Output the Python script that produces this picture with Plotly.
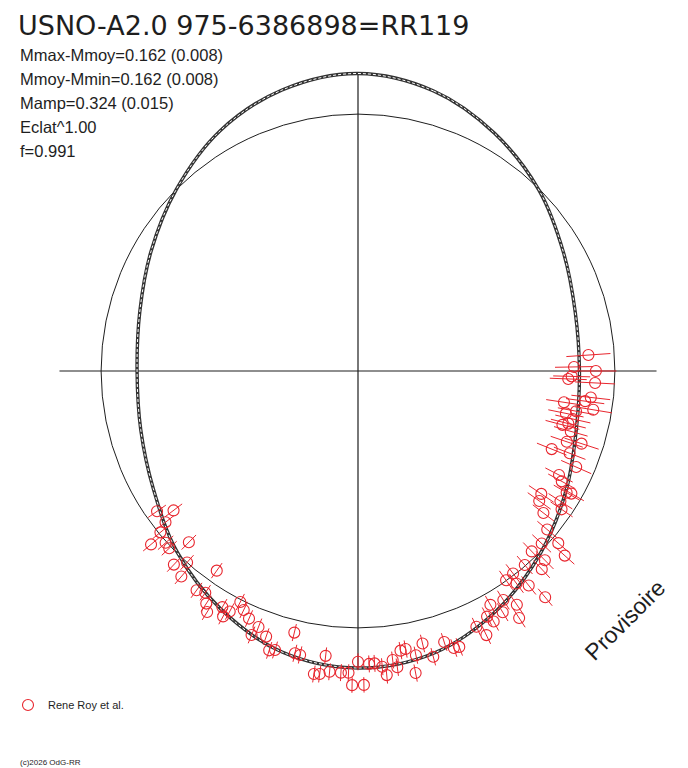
import plotly.graph_objects as go

# the page body keeps the browser's default 8px margin
PAGE_MARGIN = 8
W, H = 688 - PAGE_MARGIN, 768 - PAGE_MARGIN

# pixel centre of the polar disc (window coords) and magnitude scale
CX, CY = 358, 371
R_MIN, R_MAX = -1.0, 0.28
PX_PER_MAG = 256.9

TITLE = "USNO-A2.0 975-6386898=RR119"
INFO = [
    "Mmax-Mmoy=0.162 (0.008)",
    "Mmoy-Mmin=0.162 (0.008)",
    "Mamp=0.324 (0.015)",
    "Eclat^1.00",
    "f=0.991",
]
MMAX_MMOY = 0.162

# fitted light curve, Mmoy - M against phase
fit_phase = [0.0, 0.042, 0.083, 0.125, 0.167, 0.208, 0.250, 0.292, 0.333,
             0.375, 0.417, 0.458, 0.500, 0.542, 0.583, 0.625, 0.667, 0.708,
             0.750, 0.792, 0.833, 0.875, 0.917, 0.958, 1.0]
fit_dmag = [0.158, 0.129, 0.067, -0.004, -0.077, -0.124, -0.138, -0.120, -0.066,
            0.004, 0.078, 0.137, 0.156, 0.133, 0.070, -0.004, -0.081, -0.124,
            -0.140, -0.120, -0.070, 0.000, 0.078, 0.133, 0.158]

# observations (Rene Roy et al.)
phase = [
    0.239, 0.247, 0.250, 0.254, 0.256, 0.258, 0.268, 0.274, 0.271, 0.276,
    0.282, 0.279, 0.285, 0.291, 0.289, 0.294, 0.302, 0.300, 0.311, 0.309,
    0.316, 0.326, 0.329, 0.344, 0.334, 0.333,
    0.349, 0.341, 0.354, 0.345, 0.361, 0.370, 0.363, 0.378, 0.376, 0.366,
    0.387, 0.381, 0.396, 0.402, 0.398, 0.393, 0.390, 0.410, 0.405, 0.408,
    0.418, 0.414, 0.423,
    0.421, 0.431, 0.428, 0.451, 0.463, 0.444, 0.447, 0.473, 0.476, 0.468,
    0.459, 0.481, 0.538, 0.535, 0.532, 0.518, 0.500, 0.494, 0.491, 0.487,
    0.523, 0.520, 0.515, 0.509, 0.505, 0.485, 0.479, 0.470, 0.503, 0.497,
    0.647, 0.653, 0.644, 0.641, 0.639, 0.634, 0.630, 0.624, 0.621, 0.616,
    0.613, 0.598, 0.601, 0.596, 0.592, 0.589, 0.583, 0.578, 0.575, 0.571,
    0.566, 0.580, 0.559, 0.561, 0.553, 0.549, 0.546,
]
dmag = [
    -0.101, -0.159, -0.074, -0.168, -0.181, -0.076, -0.088, -0.189, -0.108, -0.072,
    -0.174, -0.137, -0.143, -0.177, -0.156, -0.139, -0.142, -0.085, -0.187, -0.116,
    -0.072, -0.119, -0.098, -0.141, -0.060, -0.042,
    -0.132, -0.063, -0.091, -0.042, -0.039, -0.019, 0.028, -0.025, 0.035, 0.079,
    -0.004, 0.052, -0.007, -0.002, 0.032, 0.067, 0.143, 0.056, 0.100, 0.148,
    0.046, 0.095, 0.080,
    0.109, 0.097, 0.143, 0.107, 0.090, 0.144, 0.141, 0.098, 0.101, 0.129,
    0.150, 0.133, 0.048, 0.126, 0.128, 0.116, 0.132, 0.141, 0.140, 0.155,
    0.192, 0.189, 0.176, 0.176, 0.175, 0.189, 0.163, 0.197, 0.223, 0.222,
    -0.100, -0.046, -0.047, -0.007, 0.051, 0.004, 0.008, -0.063, 0.040, -0.001,
    0.055, -0.048, 0.060, 0.048, 0.081, 0.107, 0.060, 0.061, 0.009, 0.031,
    0.053, 0.090, 0.069, 0.108, 0.094, 0.141, 0.133,
]
err = [
    0.086, 0.074, 0.080, 0.072, 0.072, 0.078, 0.076, 0.070, 0.075, 0.074,
    0.070, 0.072, 0.070, 0.068, 0.070, 0.068, 0.066, 0.070, 0.062, 0.066,
    0.064, 0.060, 0.060, 0.058, 0.058, 0.056,
    0.055, 0.055, 0.052, 0.052, 0.050, 0.050, 0.050, 0.048, 0.048, 0.050,
    0.046, 0.046, 0.045, 0.045, 0.045, 0.045, 0.043, 0.043, 0.043, 0.043,
    0.040, 0.040, 0.040,
    0.040, 0.038, 0.038, 0.036, 0.035, 0.036, 0.036, 0.034, 0.034, 0.034,
    0.035, 0.033, 0.034, 0.034, 0.034, 0.033, 0.033, 0.033, 0.033, 0.033,
    0.033, 0.033, 0.033, 0.033, 0.033, 0.033, 0.034, 0.034, 0.030, 0.030,
    0.042, 0.042, 0.042, 0.040, 0.040, 0.040, 0.040, 0.040, 0.038, 0.038,
    0.038, 0.036, 0.036, 0.036, 0.036, 0.036, 0.036, 0.036, 0.035, 0.035,
    0.035, 0.035, 0.035, 0.035, 0.034, 0.034, 0.034,
]

INK = "#1e1e1e"
RED = "#e8262e"


def px(x):
    return (x - PAGE_MARGIN) / W


def py(y):
    return 1 - (y - PAGE_MARGIN) / H


theta_pts = [p * 360 for p in phase]
theta_fit = [p * 360 for p in fit_phase]

bar_r, bar_t = [], []
for t, m, e in zip(theta_pts, dmag, err):
    bar_r += [m - e, m + e, None]
    bar_t += [t, t, None]

fig = go.Figure()

# crosshair
fig.add_trace(go.Scatterpolar(
    r=[MMAX_MMOY, R_MIN, MMAX_MMOY, None, MMAX_MMOY, R_MIN, MMAX_MMOY],
    theta=[0, 0, 180, None, 90, 90, 270],
    mode="lines", line=dict(color=INK, width=1.2),
    showlegend=False, hoverinfo="skip",
))

# fitted curve bundle
fig.add_trace(go.Scatterpolar(
    r=fit_dmag, theta=theta_fit, mode="lines",
    line=dict(color="#333333", width=3.4, shape="spline"),
    showlegend=False, hoverinfo="skip",
))
fig.add_trace(go.Scatterpolar(
    r=fit_dmag, theta=theta_fit, mode="lines",
    line=dict(color="white", width=1, dash="3px,2px", shape="spline"),
    showlegend=False, hoverinfo="skip",
))

# error bars
fig.add_trace(go.Scatterpolar(
    r=bar_r, theta=bar_t, mode="lines",
    line=dict(color=RED, width=1), cliponaxis=False,
    showlegend=False, hoverinfo="skip",
))

fig.add_trace(go.Scatterpolar(
    r=dmag, theta=theta_pts, mode="markers", name="Rene Roy et al.",
    marker=dict(symbol="circle-open", size=11, color=RED, line=dict(width=1.1)),
    cliponaxis=False,
))

r_px = (R_MAX - R_MIN) * PX_PER_MAG
fig.update_layout(
    width=W, height=H,
    margin=dict(l=0, r=0, t=0, b=0),
    paper_bgcolor="white",
    font=dict(family="Liberation Sans, Arial, sans-serif", color=INK),
    polar=dict(
        domain=dict(
            x=[px(CX - r_px), px(CX + r_px)],
            y=[py(CY + r_px), py(CY - r_px)],
        ),
        bgcolor="white",
        radialaxis=dict(
            range=[R_MIN, R_MAX], tickmode="array", tickvals=[0],
            showticklabels=False, ticks="", showline=False,
            showgrid=True, gridcolor=INK, gridwidth=1.1,
        ),
        angularaxis=dict(
            rotation=90, direction="clockwise", showgrid=False,
            showline=False, showticklabels=False, ticks="",
        ),
    ),
    legend=dict(
        x=px(8), y=py(705), xanchor="left", yanchor="middle",
        font=dict(size=11, color=INK), bgcolor="rgba(0,0,0,0)",
    ),
    showlegend=True,
)

fig.add_annotation(
    text=TITLE, x=px(16), y=py(8), xref="paper", yref="paper",
    xanchor="left", yanchor="top", showarrow=False,
    font=dict(family="DejaVu Sans, sans-serif", size=27, color=INK),
)
info_y = [55, 79, 103, 127, 151]
for txt, yy in zip(INFO, info_y):
    fig.add_annotation(
        text=txt, x=px(18), y=py(yy), xref="paper", yref="paper",
        xanchor="left", yanchor="middle", showarrow=False,
        font=dict(size=16.5, color=INK),
    )

fig.add_annotation(
    text="Provisoire", x=px(625), y=py(620), xref="paper", yref="paper",
    xanchor="center", yanchor="middle",
    showarrow=False, textangle=-45, font=dict(size=23, color=INK),
)
fig.add_annotation(
    text="(c)2026 OdG-RR", x=px(18), y=py(762), xref="paper", yref="paper",
    xanchor="left", yanchor="middle", showarrow=False,
    font=dict(size=8, color=INK),
)

fig.write_html("out.html")
